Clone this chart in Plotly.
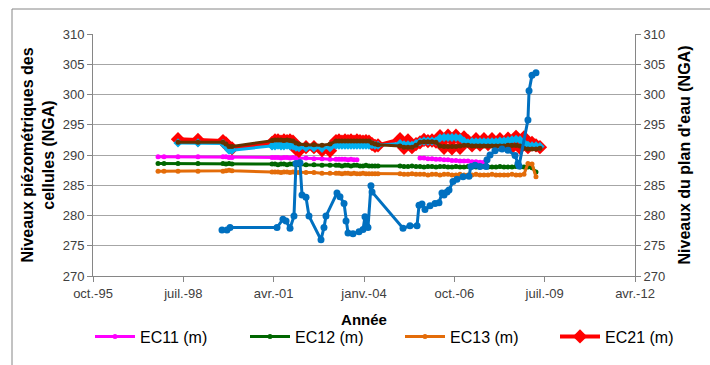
import pandas as pd
import plotly.graph_objects as go

# ---- data (dates as Excel serial day numbers) ----
cell_dates = [35720, 35786, 35941, 36162, 36439, 36472, 36506, 36539,
              36982, 37015, 37048, 37081, 37114, 37148, 37181, 37214, 37247, 37280,
              37358, 37446, 37535, 37624,
              37690, 37723, 37756, 37790, 37823, 37856, 37889, 37922, 37956, 37989,
              38022, 38055, 38089, 38122, 38155,
              38399, 38443, 38487, 38531, 38576, 38620, 38664, 38708, 38753, 38797,
              38841, 38886, 38930, 38974, 39018, 39063, 39107, 39151, 39196, 39240,
              39284, 39328, 39373, 39417, 39461, 39505, 39550, 39594, 39638, 39683,
              39727, 39771, 39815, 39860, 39904, 39948]

ec11 = [289.7, 289.7, 289.7, 289.7, 289.7, 289.7, 289.6, 289.6,
        289.6, 289.6, 289.6, 289.5, 289.6, 289.6, 289.5, 289.6, 289.5, 289.5,
        289.5, 289.4, 289.4, 289.3,
        289.3, 289.3, 289.3, 289.3, 289.2, 289.3, 289.2, 289.2, None, None,
        None, None, None, None, None,
        None, None, None, None, None, 289.5, 289.5, 289.4, 289.4, 289.3,
        289.3, 289.2, 289.2, 289.1, 289.1, 289.0, 289.0, 289.0, 288.9, 288.9,
        288.8, 288.8, None, None, None, None, None, None, None, None,
        None, None, None, None, None, None]

ec12 = [288.6, 288.6, 288.6, 288.6, 288.6, 288.5, 288.6, 288.5,
        288.5, 288.5, 288.4, 288.5, 288.5, 288.4, 288.5, 288.5, 288.4, 288.4,
        288.4, 288.4, 288.3, 288.3,
        288.3, 288.3, 288.2, 288.3, 288.3, 288.2, 288.3, 288.3, 288.2, 288.2,
        288.3, 288.2, 288.2, 288.2, 288.2,
        288.2, 288.1, 288.1, 288.2, 288.1, 288.1, 288.0, 288.1, 288.1, 288.0,
        288.1, 288.1, 288.0, 288.0, 288.1, 288.0, 288.0, 288.1, 288.0, 288.0,
        288.0, 288.1, 288.0, 288.0, 288.0, 288.1, 288.0, 288.0, 288.0, 288.1,
        288.0, 288.0, 288.0, 287.9, 287.2, None]

ec13 = [287.3, 287.3, 287.3, 287.3, 287.3, 287.4, 287.5, 287.4,
        287.2, 287.2, 287.2, 287.1, 287.2, 287.2, 287.1, 287.2, 287.1, 287.1,
        287.1, 287.1, 287.0, 287.0,
        287.0, 287.0, 286.9, 287.0, 287.0, 286.9, 287.0, 286.9, 286.9, 287.0,
        286.9, 286.9, 286.9, 286.9, 286.9,
        286.9, 286.8, 286.8, 286.9, 286.8, 286.8, 286.8, 286.7, 286.8, 286.8,
        286.7, 286.8, 286.8, 286.7, 286.7, 286.8, 286.7, 286.7, 286.7, 286.8,
        286.7, 286.7, 286.7, 286.8, 286.7, 286.7, 286.7, 286.7, 286.8, 286.7,
        286.7, 286.8, 288.6, 288.5, 286.4, None]

ec21 = [None, None, 292.6, 292.5, 292.3, 291.9, 291.3, 291.1,
        292.0, 292.4, 292.4, 292.2, 292.4, 292.3, 292.4, 292.2, 291.0, 290.7,
        291.3, 291.3, 290.8, 290.7,
        292.3, 292.4, 292.2, 292.4, 292.3, 292.4, 292.2, 292.4, 292.3, 292.2,
        292.3, 292.2, 291.8, 291.5, 291.6,
        292.6, 291.2, 292.4, 291.3, 291.8, 292.1, 292.5, 292.3, 292.4, 292.2,
        293.1, 291.2, 293.2, 291.1, 293.2, 291.2, 292.9, 292.3, 291.6, 292.6,
        291.7, 292.6, 291.8, 292.6, 291.9, 292.6, 291.9, 292.7, 291.3, 293.0,
        291.2, 292.9, 291.3, 292.0, 291.6, 291.3]

ec22 = [None, None, 292.0, 292.0, 291.9, 291.4, 290.8, 290.8,
        291.5, 291.5, 291.6, 291.5, 291.5, 291.6, 291.5, 291.5, 291.3, 291.2,
        291.2, 291.2, 291.1, 291.2,
        291.6, 291.6, 291.6, 291.6, 291.6, 291.6, 291.6, 291.6, 291.6, 291.6,
        291.6, 291.6, 291.7, 291.6, 291.6,
        291.9, 291.7, 291.7, 291.6, 291.9, 292.2, 292.3, 292.3, 292.3, 292.3,
        292.8, 292.9, 292.9, 292.9, 292.9, 292.8, 292.3, 292.0, 292.2, 292.2,
        292.2, 292.2, 292.2, 292.2, 292.2, 292.3, 292.3, 292.4, 292.5, 292.6,
        292.5, 292.0, 291.6, 291.5, 291.5, 291.4]

ec23 = [None, None, 292.1, 292.1, 292.1, 291.8, 291.4, 291.4,
        292.4, 292.5, 292.5, 292.5, 292.4, 292.5, 292.4, 292.3, 292.0, 291.8,
        291.7, 291.7, 291.6, 291.8,
        292.3, 292.3, 292.3, 292.3, 292.3, 292.3, 292.3, 292.3, 292.3, 292.3,
        292.3, 292.3, 292.0, 291.8, 291.7,
        291.5, 291.3, 291.3, 291.3, 291.6, 292.1, 292.2, 292.2, 292.2, 292.1,
        291.5, 291.4, 291.4, 291.4, 291.4, 291.5, 291.6, 291.6, 291.5, 291.5,
        291.5, 291.5, 291.5, 291.5, 291.5, 291.5, 291.5, 291.6, 291.6, 291.6,
        291.5, 291.1, 291.0, 291.0, 291.0, 291.1]

water_dates = [36428, 36483, 36517, 37037, 37103, 37137, 37181, 37225, 37247, 37291,
               37314, 37358, 37391, 37524, 37557, 37579, 37701, 37734, 37779, 37801,
               37823, 37878, 37945, 37989, 38011, 38033, 38044, 38077, 38089, 38432,
               38509, 38587, 38609, 38642, 38675, 38731, 38786, 38830, 38863, 38886,
               38919, 38941, 38985, 39029, 39096, 39162, 39184, 39229, 39284, 39351,
               39362, 39395, 39450, 39528, 39594, 39672, 39705, 39716, 39815, 39827,
               39860, 39904]
water = [277.6, 277.6, 278.0, 278.0, 279.4, 279.1, 277.9, 279.9, 288.6, 288.7,
         283.4, 283.0, 279.9, 276.0, 278.0, 279.9, 283.7, 283.1, 282.0, 279.1,
         277.1, 277.0, 277.3, 277.7, 279.8, 278.2, 278.0, 284.9, 283.9, 277.9,
         278.3, 278.3, 281.7, 281.9, 281.0, 281.6, 282.0, 282.1, 283.7, 283.4,
         283.9, 284.2, 285.6, 286.0, 286.4, 286.5, 288.1, 288.3, 288.1, 288.1,
         289.2, 290.0, 290.7, 291.0, 290.8, 289.9, 288.6, 288.2, 295.8, 300.6,
         303.2, 303.6]

tick_serials = [35000, 36000, 37000, 38000, 39000, 40000, 41000]
tick_labels = ["oct.-95", "juil.-98", "avr.-01", "janv.-04", "oct.-06", "juil.-09", "avr.-12"]


def to_date(serials):
    return pd.to_datetime(pd.Series(serials), unit="D", origin="1899-12-30")


xd = to_date(cell_dates)
xw = to_date(water_dates)
xt = to_date(tick_serials)

fig = go.Figure()

fig.add_trace(go.Scatter(x=xd, y=ec11, name="EC11 (m)", mode="lines+markers",
                         line=dict(color="#FF00FF", width=3),
                         marker=dict(symbol="circle", size=5, color="#FF00FF")))
fig.add_trace(go.Scatter(x=xd, y=ec12, name="EC12 (m)", mode="lines+markers",
                         line=dict(color="#006600", width=3),
                         marker=dict(symbol="circle", size=5, color="#006600")))
fig.add_trace(go.Scatter(x=xd, y=ec13, name="EC13 (m)", mode="lines+markers",
                         line=dict(color="#E36C09", width=3),
                         marker=dict(symbol="circle", size=5, color="#E36C09")))
fig.add_trace(go.Scatter(x=xd, y=ec21, name="EC21 (m)", mode="lines+markers",
                         line=dict(color="#FF0000", width=4),
                         marker=dict(symbol="diamond", size=11, color="#FF0000")))
fig.add_trace(go.Scatter(x=xd, y=ec22, name="EC22 (m)", mode="lines+markers",
                         showlegend=False,
                         line=dict(color="#00B0F0", width=3),
                         marker=dict(symbol="diamond", size=7, color="#00B0F0")))
fig.add_trace(go.Scatter(x=xd, y=ec23, name="EC23 (m)", mode="lines+markers",
                         showlegend=False,
                         line=dict(color="#663300", width=3),
                         marker=dict(symbol="circle", size=5, color="#663300")))
fig.add_trace(go.Scatter(x=xw, y=water, name="Plan d'eau", mode="lines+markers",
                         showlegend=False, yaxis="y2",
                         line=dict(color="#0070C0", width=3),
                         marker=dict(symbol="circle", size=7, color="#0070C0")))

axis_grey = "#868686"
tick_font = dict(family="Liberation Sans, Arial, sans-serif", size=13, color="#404040")
title_font = dict(family="Liberation Sans, Arial, sans-serif", size=16, color="#000000")

fig.update_layout(
    width=710, height=365,
    margin=dict(l=93, r=75, t=34, b=89),
    paper_bgcolor="white", plot_bgcolor="white",
    font=dict(family="Liberation Sans, Arial, sans-serif"),
    xaxis=dict(type="date", range=[xt.iloc[0], xt.iloc[-1]], automargin=True,
               tickvals=list(xt), ticktext=tick_labels,
               showgrid=False, zeroline=False, showline=True, linecolor=axis_grey,
               ticks="outside", ticklen=5, tickcolor=axis_grey, tickfont=tick_font,
               title=dict(text="<b>Année</b>", font=dict(size=15, color="#000"), standoff=14)),
    yaxis=dict(range=[270, 310], dtick=5, tick0=270, automargin=False,
               showgrid=True, gridcolor="#A6A6A6", gridwidth=1, zeroline=False,
               showline=True, linecolor=axis_grey, ticks="outside", ticklen=5,
               tickcolor=axis_grey, tickfont=tick_font,
               title=dict(text="<b>Niveaux piézométriques des<br>cellules (NGA)</b>",
                          font=title_font, standoff=4)),
    yaxis2=dict(range=[270, 310], dtick=5, tick0=270, overlaying="y", side="right",
                automargin=False,
                showgrid=False, zeroline=False, showline=True, linecolor=axis_grey,
                ticks="outside", ticklen=5, tickcolor=axis_grey, tickfont=tick_font,
                title=dict(text="<b>Niveaux du plan d'eau (NGA)</b>", font=title_font,
                           standoff=14)),
    legend=dict(orientation="h", x=-0.005, xanchor="left", y=-0.25, yanchor="middle",
                font=dict(size=16, color="#000"), entrywidth=100, entrywidthmode="pixels",
                itemwidth=40, bgcolor="rgba(0,0,0,0)"),
    shapes=[dict(type="rect", xref="paper", yref="paper",
                 x0=(12 - 93) / 542, x1=(720 - 93) / 542,
                 y0=(276 - 380) / 242, y1=1 + (34 - 9) / 242,
                 line=dict(color="#868686", width=1), fillcolor="rgba(0,0,0,0)",
                 layer="below")],
)

fig.write_html("out.html", config={"displayModeBar": False},
               post_script="document.body.style.margin='0';")
